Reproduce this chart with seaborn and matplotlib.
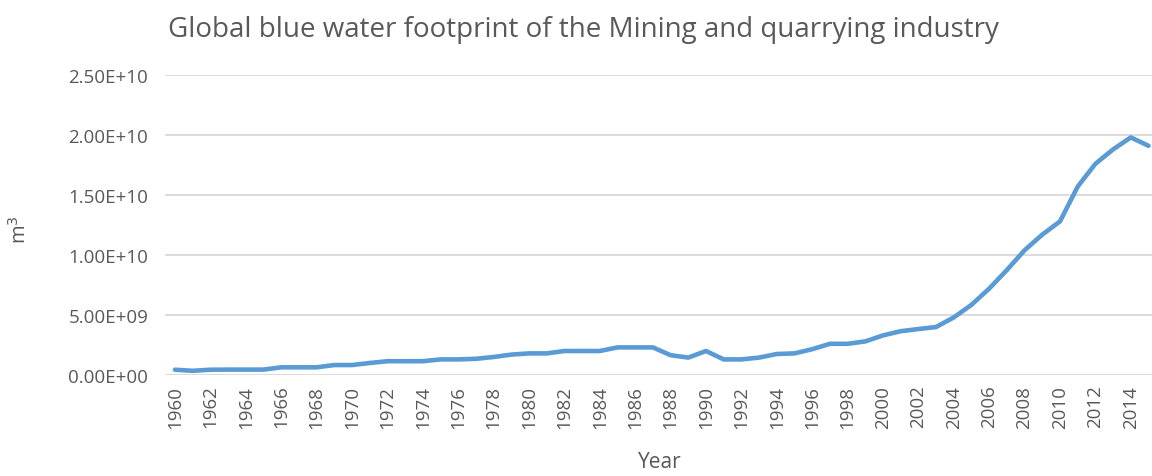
import matplotlib
matplotlib.use("Agg")
import matplotlib.pyplot as plt
import numpy as np
import pandas as pd
import seaborn as sns
from matplotlib.ticker import FuncFormatter

years = list(range(1960, 2016))
footprint = [
    4.4e8, 3.5e8, 4.4e8, 4.5e8, 4.5e8, 4.5e8, 6.4e8, 6.4e8, 6.4e8, 8.3e8,
    8.3e8, 1.0e9, 1.15e9, 1.15e9, 1.15e9, 1.3e9, 1.3e9, 1.35e9, 1.5e9, 1.7e9,
    1.8e9, 1.8e9, 2.0e9, 2.0e9, 2.0e9, 2.3e9, 2.3e9, 2.3e9, 1.65e9, 1.45e9,
    2.0e9, 1.3e9, 1.3e9, 1.45e9, 1.75e9, 1.8e9, 2.15e9, 2.6e9, 2.6e9, 2.8e9,
    3.3e9, 3.65e9, 3.83e9, 4.0e9, 4.8e9, 5.85e9, 7.2e9, 8.75e9, 1.04e10, 1.17e10,
    1.28e10, 1.57e10, 1.76e10, 1.88e10, 1.98e10, 1.91e10,
]
xtick_years = list(range(1960, 2015, 2))
yticks = [0, 5e9, 1e10, 1.5e10, 2e10, 2.5e10]

LINE = "#5B9BD5"
GRID = "#D9D9D9"
TEXT = "#595959"


def main():
    sns.set_style("white")
    plt.rcParams["font.family"] = ["Open Sans", "DejaVu Sans"]

    df = pd.DataFrame({"Year": years, "m3": footprint})

    fig = plt.figure(figsize=(11.52, 4.77), dpi=100)
    ax = fig.add_axes([165 / 1152, 1 - 376 / 477, 1 - 165 / 1152, 300 / 477])

    sns.lineplot(data=df, x="Year", y="m3", color=LINE, linewidth=3.3, ax=ax,
                 solid_joinstyle="round", solid_capstyle="round")

    ax.set_xlim(1960 - 10 / 17.7, 1960 + (1152 - 175) / 17.7)
    ax.set_ylim(0, 2.5e10)
    ax.set_xticks(xtick_years)
    ax.set_xticklabels([str(y) for y in xtick_years], rotation=90)
    ax.set_yticks(yticks)
    ax.yaxis.set_major_formatter(FuncFormatter(lambda v, _: f"{v:.2E}"))
    ax.tick_params(axis="both", length=0, labelsize=13.5, colors=TEXT)
    ax.tick_params(axis="y", pad=12)
    ax.tick_params(axis="x", pad=7)
    ax.grid(axis="y", color=GRID, linewidth=1.3)
    ax.set_axisbelow(True)
    for s in ax.spines.values():
        s.set_visible(False)

    ax.set_xlabel("Year", fontsize=15, color=TEXT)
    ax.set_ylabel("m$^3$", fontsize=14.5, color=TEXT)
    ax.xaxis.set_label_coords((660 - 165) / (1152 - 165), (376 - 452) / 300)
    ax.yaxis.set_label_coords((31 - 165) / (1152 - 165), (376 - 230) / 300)

    fig.text(583 / 1152, 1 - 30 / 477,
             "Global blue water footprint of the Mining and quarrying industry",
             ha="center", va="center", fontsize=20, color=TEXT)

    fig.savefig("out.png", dpi=100)
    plt.close(fig)


if __name__ == "__main__":
    main()
